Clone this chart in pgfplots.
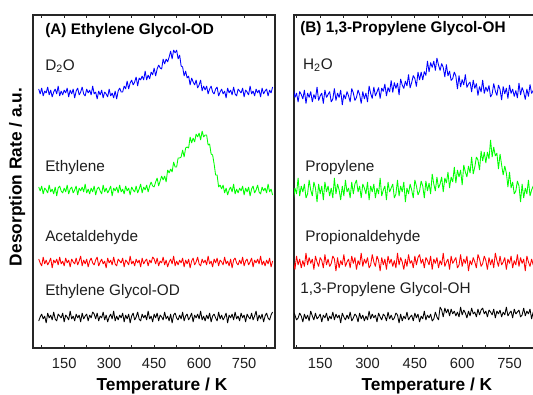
\documentclass[border=0pt]{standalone}
\usepackage{fontspec}
\setmainfont{Liberation Sans}
\usepackage{pgfplots}
\usepackage{pgfplotstable}
\pgfplotsset{compat=1.18}
\definecolor{cblue}{RGB}{0,0,255}
\definecolor{cgreen}{RGB}{0,255,0}
\definecolor{cred}{RGB}{255,0,0}
\definecolor{txt}{RGB}{30,30,30}

\pgfplotstableread{
x d2o eth ace eg
65 259 161 89 27
70 254 157 85 31
75 260 162 82 34
80 252 154 91 29
85 257 160 84 32
90 255 158 88 25
95 261 155 83 35
100 253 163 86 30
105 258 156 90 33
110 251 159 80 28
115 256 154 88 36
120 259 161 85 29
125 254 152 89 27
130 262 160 83 34
135 252 162 91 32
140 257 157 84 30
145 253 155 87 35
150 258 160 82 26
155 255 156 90 33
160 260 163 85 31
165 251 154 88 28
170 258 159 81 37
175 254 161 89 29
180 259 155 86 32
185 250 158 84 27
190 257 162 90 34
195 260 153 83 30
200 253 160 87 33
205 256 157 92 26
210 261 161 82 35
215 254 156 88 29
220 252 164 84 32
225 259 155 89 34
230 255 159 81 27
235 258 154 87 33
240 253 160 90 30
245 262 156 85 36
250 254 162 83 34
255 256 153 88 29
260 249 159 91 35
265 257 161 82 27
270 253 157 86 32
275 258 154 89 30
280 250 163 84 36
285 256 156 87 28
290 254 160 80 33
295 251 155 90 26
300 259 158 85 31
305 252 162 88 34
310 255 152 83 29
315 250 160 91 37
320 257 157 84 27
325 249 161 82 32
330 257 155 89 28
335 260 163 87 33
340 256 156 85 30
345 256 159 90 35
350 262 154 81 26
355 259 162 88 33
360 267 157 86 29
365 259 160 83 34
370 265 153 92 25
375 268 161 84 32
380 263 158 87 35
385 266 156 82 28
390 271 162 89 31
395 262 155 85 36
400 270 159 88 29
405 268 164 81 27
410 272 155 90 34
415 268 161 84 30
420 277 158 87 33
425 268 163 89 28
430 273 156 82 37
435 269 162 88 29
440 276 166 85 32
445 273 162 91 26
450 280 161 89 34
455 272 166 84 30
460 279 170 90 35
465 283 162 82 27
470 280 167 87 33
475 279 172 85 31
480 289 168 91 28
485 284 172 83 36
490 289 166 88 29
495 286 178 81 32
500 291 175 86 27
505 297 179 89 34
510 289 176 84 25
515 298 186 92 33
520 295 181 82 35
525 298 181 87 30
530 289 190 83 28
535 293 190 88 33
540 282 191 85 29
545 281 198 90 36
550 272 191 81 27
555 277 200 88 32
560 270 201 84 34
565 272 200 89 28
570 263 211 80 31
575 270 205 87 35
580 266 210 90 26
585 263 206 83 33
590 268 214 86 30
595 260 211 91 34
600 263 215 84 29
605 268 208 82 37
610 257 217 89 28
615 262 211 85 32
620 258 213 88 27
625 262 213 83 33
630 254 203 92 29
635 259 204 84 35
640 262 194 87 26
645 256 193 81 32
650 254 184 89 34
655 259 173 85 30
660 261 173 90 27
665 252 161 82 36
670 256 163 88 29
675 259 159 86 33
680 254 163 83 28
685 257 155 91 31
690 250 160 84 35
695 260 153 87 25
700 255 158 82 33
705 258 161 89 30
710 253 156 80 34
715 261 164 88 28
720 254 154 90 36
725 252 159 85 29
730 259 155 83 32
735 257 160 88 27
740 255 157 84 35
745 260 162 91 30
750 251 153 82 33
755 258 160 87 26
760 256 156 89 34
765 253 161 83 31
770 262 152 86 29
775 254 159 90 35
780 257 162 81 28
785 252 155 88 32
790 259 158 85 37
795 255 163 89 27
800 258 156 84 33
805 251 154 92 29
810 260 161 83 34
815 254 157 87 26
820 257 160 82 32
825 259 155 88 35
830 252 164 84 30
835 258 156 90 28
840 255 159 81 33
845 261 153 87 36
}\tabA

\pgfplotstableread{
x h2o pro pal pg
65 259.5 148 87.5 36
70 250.5 160 78.5 33
75 255 154 92 28
80 246 170 83 30
85 256.5 152 89 35
90 253.5 162 80 32
95 249 156 87.5 26
100 258 164 81.5 34
105 244.5 150 95 29
110 255 154 83 33
115 250.5 168 90.5 27
120 256.5 158 84.5 37
125 246 152 89 32
130 253.5 166 78.5 28
135 249 160 92 35
140 261 146 86 29
145 247.5 164 81.5 31
150 252 154 90.5 34
155 255 162 87.5 26
160 244.5 148 80 33
165 258 166 93.5 30
170 250.5 156 83 35
175 253.5 162 89 27
180 256.5 152 81.5 32
185 246 160 84.5 29
190 249 150 92 36
195 259.5 170 89 28
200 247.5 154 77 34
205 255 164 90.5 30
210 250.5 158 80 33
215 258 148 87.5 25
220 243 162 83 35
225 253.5 152 93.5 31
230 249 168 81.5 28
235 256.5 156 86 33
240 252 160 89 29
245 246 150 80 36
250 259.5 166 92 27
255 255 154 84.5 30
260 247.5 164 90.5 34
265 250.5 168 78.5 32
270 258 156 87.5 26
275 253.5 162 83 35
280 244.5 150 95 29
285 256.5 164 81.5 33
290 249 160 89 27
295 255 154 84.5 32
300 246 166 90.5 28
305 262 148 80 37
310 254.5 162 83 29
315 249.5 156 93.5 34
320 261 164 86 30
325 252 150 81.5 33
330 256 160 92 26
335 260.5 154 87.5 35
340 249.5 170 77 31
345 260 152 90.5 28
350 256.5 158 83 34
355 264 162 89 32
360 252 148 78.5 27
365 260.5 166 92 36
370 256 156 84.5 29
375 267.5 160 89 33
380 255.5 164 81.5 28
385 265.5 150 87.5 30
390 259.5 154 80 35
395 265 168 95 33
400 253 152 83 25
405 269 162 90.5 34
410 263 156 86 27
415 259.5 166 78.5 32
420 267 146 89 29
425 262 160 81.5 36
430 273.5 154 93.5 28
435 260 164 84.5 31
440 265.5 158 87.5 33
445 272.5 150 80 27
450 269.5 168 92 35
455 261.5 162 83 30
460 276 153 90.5 34
465 268 157 93.5 26
470 276 167 84.5 32
475 268 162 89 29
480 276.5 150 80 37
485 272.5 167 90.5 28
490 287 157 87.5 33
495 276 165 83 30
500 285.5 154 92 34
505 280.5 174 78.5 27
510 287 164 89 29
515 277.5 157 84.5 36
520 290 171 90.5 31
525 283 160 80 28
530 277.5 164 87.5 41
535 284.5 171 83 38
540 280.5 156 95 31
545 271 170 81.5 40
550 283.5 165 86 35
555 272 176 89 39
560 277 160 78.5 32
565 267.5 171 92 39
570 269.5 166 84.5 34
575 276 181 87.5 37
580 272 165 90.5 32
585 259 178 80 36
590 272.5 171 83 31
595 261 178 93.5 41
600 268.5 163 81.5 33
605 263 183 89 38
610 273.5 176 84.5 35
615 260.5 171 92 30
620 264 182 77 37
625 266 175 87.5 32
630 256 191 83 40
635 268 174 90.5 34
640 259.5 181 86 36
645 264.5 191 80 31
650 252.5 188 93.5 39
655 261.5 178 89 33
660 256 197 81.5 38
665 268 187 84.5 40
670 254.5 196 92 34
675 261 185 87.5 37
680 256.5 196 78.5 31
685 262.5 189 90.5 38
690 251 208 83 36
695 254 191 89 33
700 264.5 201 80 39
705 257 192 95 30
710 252.5 195 87.5 37
715 263 179 81.5 34
720 258.5 194 92 38
725 248 183 83 31
730 261.5 173 86 36
735 254 182 90.5 33
740 260 175 78.5 41
745 249.5 161 89 32
750 263 176 84.5 35
755 254.5 160 92 37
760 259 166 80 30
765 251.5 154 87.5 39
770 257.5 157 83 34
775 250 167 93.5 36
780 265 162 81.5 38
785 253 146 90.5 31
790 260.5 164 84.5 33
795 256 150 89 40
800 248.5 160 77 32
805 259 154 92 37
810 251.5 168 86 34
815 263.5 152 81.5 39
820 254.5 158 89 29
825 257.5 162 83 36
830 250 150 93.5 33
835 262 166 80 38
840 253 156 84.5 35
845 260.5 164 90.5 31
}\tabB

\pgfplotsset{
  panel/.style={
    scale only axis,
    height=249.75pt,
    ymin=0, ymax=333,
    ytick=\empty,
    xtick={150,300,450,600,750},
    minor xtick={75,225,375,525,675,825},
    tick align=inside,
    major tick length=2.5pt,
    minor tick length=2.5pt,
    axis line style={line width=0.8pt, black!85},
    tick style={line width=0.6pt, black!85},
    /pgf/number format/assume math mode=true,
    xticklabel style={font=\fontsize{11}{13}\selectfont, text=txt, yshift=-4pt},
    xlabel={Temperature / K},
    xlabel style={font=\fontsize{13}{15}\selectfont\bfseries, text=black, anchor=center},
    every axis plot/.append style={line width=0.65pt, line join=bevel},
    anchor=south west,
  },
}
\tikzset{
  lab/.style={anchor=west, inner sep=0pt, text=txt, font=\fontsize{11.5}{13}\selectfont},
  tit/.style={anchor=west, inner sep=0pt, text=black, font=\fontsize{11.5}{13}\selectfont\bfseries},
}

\begin{document}
\begin{tikzpicture}
\path[use as bounding box] (0,0) rectangle (399.75pt,296.25pt);
\clip (0,0) rectangle (399.75pt,296.25pt);

\begin{axis}[panel,
  at={(24.75pt,35.25pt)},
  width=181.5pt,
  xmin=46, xmax=853,
  xlabel style={at={(axis description cs:0.533,-0.115)}},
  ylabel={Desorption Rate / a.u.},
  ylabel style={font=\fontsize{13}{15}\selectfont\bfseries, at={(axis description cs:-0.066,0.5135)}, anchor=center},
]
\addplot[cblue] table[x=x, y=d2o]{\tabA};
\addplot[cgreen] table[x=x, y=eth]{\tabA};
\addplot[cred] table[x=x, y=ace]{\tabA};
\addplot[black] table[x=x, y=eg]{\tabA};
\node[tit] at (axis cs:86,317) {(A) Ethylene Glycol-OD};
\node[lab] at (axis cs:86,282) {D\textsubscript{2}O};
\node[lab] at (axis cs:86,180) {Ethylene};
\node[lab] at (axis cs:86,110) {Acetaldehyde};
\node[lab] at (axis cs:86,56) {Ethylene Glycol-OD};
\end{axis}

\begin{axis}[panel,
  at={(220.5pt,35.25pt)},
  width=186pt,
  xmin=67, xmax=853,
  xlabel style={at={(axis description cs:0.536,-0.115)}},
]
\addplot[cblue] table[x=x, y=h2o]{\tabB};
\addplot[cgreen] table[x=x, y=pro]{\tabB};
\addplot[cred] table[x=x, y=pal]{\tabB};
\addplot[black] table[x=x, y=pg]{\tabB};
\node[tit] at (axis cs:86,319) {(B) 1,3-Propylene Glycol-OH};
\node[lab] at (axis cs:95,283) {H\textsubscript{2}O};
\node[lab] at (axis cs:102,180) {Propylene};
\node[lab] at (axis cs:102,110) {Propionaldehyde};
\node[lab] at (axis cs:86,58) {1,3-Propylene Glycol-OH};
\end{axis}
\end{tikzpicture}
\end{document}
